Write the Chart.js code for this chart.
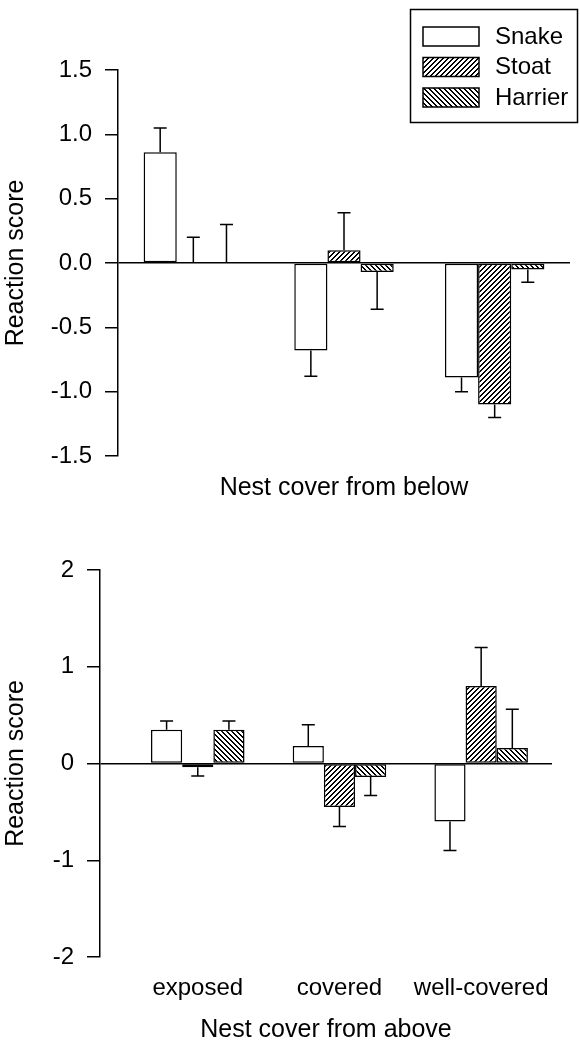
<!DOCTYPE html>
<html>
<head>
<meta charset="utf-8">
<script src="https://cdn.jsdelivr.net/npm/chart.js@4"></script>
<style>
  html, body { margin: 0; padding: 0; background: #fff; overflow: hidden; }
  canvas { position: absolute; left: 0; }
  #below { top: 0; }
  #above { top: 520px; }
</style>
</head>
<body>
<canvas id="below" width="580" height="520"></canvas>
<canvas id="above" width="580" height="540"></canvas>
<script>
// categories and predator models
const categories = ['exposed', 'covered', 'well-covered'];
const seriesNames = ['Snake', 'Stoat', 'Harrier'];

// top panel: nest cover from below (mean, one-sided error)
const belowSnake = [0.86, -0.68, -0.89];
const belowStoat = [0.00, 0.10, -1.10];
const belowHarrier = [0.00, -0.07, -0.05];
const belowSnakeErr = [0.19, 0.20, 0.11];
const belowStoatErr = [0.20, 0.29, 0.10];
const belowHarrierErr = [0.30, 0.29, 0.10];
const belowTicks = [-1.5, -1.0, -0.5, 0.0, 0.5, 1.0, 1.5];

// bottom panel: nest cover from above
const aboveSnake = [0.35, 0.18, -0.60];
const aboveStoat = [-0.04, -0.45, 0.80];
const aboveHarrier = [0.35, -0.14, 0.16];
const aboveSnakeErr = [0.09, 0.22, 0.30];
const aboveStoatErr = [0.09, 0.20, 0.40];
const aboveHarrierErr = [0.09, 0.19, 0.40];
const aboveTicks = [-2, -1, 0, 1, 2];

Chart.defaults.font.family = "'Liberation Sans', Arial, sans-serif";
Chart.defaults.font.size = 24;
Chart.defaults.color = '#000';

// crisp diagonal hatch fills ('/' for dir > 0, '\' otherwise)
function hatch(dir) {
    const n = 5;
    const c = document.createElement('canvas');
    c.width = c.height = n;
    const g = c.getContext('2d');
    g.fillStyle = '#fff';
    g.fillRect(0, 0, n, n);
    g.fillStyle = '#000';
    for (let x = 0; x < n; x++) {
        for (let y = 0; y < n; y++) {
            const k = dir > 0 ? (x + y) % n : (x - y + n) % n;
            if (k < 2) g.fillRect(x, y, 1, 1);
        }
    }
    return g.createPattern(c, 'repeat');
}
const fills = ['#fff', hatch(1), hatch(-1)];

// one-sided error bars, pointing away from zero
const errorBars = {
    id: 'errorBars',
    afterDatasetsDraw(chart) {
        const ctx = chart.ctx;
        const y = chart.scales.y;
        ctx.save();
        ctx.strokeStyle = '#000';
        ctx.lineWidth = 1.5;
        chart.data.datasets.forEach((ds, i) => {
            chart.getDatasetMeta(i).data.forEach((bar, j) => {
                const v = ds.data[j].y;
                const end = v >= 0 ? v + ds.errors[j] : v - ds.errors[j];
                const y0 = y.getPixelForValue(v);
                const y1 = y.getPixelForValue(end);
                ctx.beginPath();
                ctx.moveTo(bar.x, y0);
                ctx.lineTo(bar.x, y1);
                ctx.moveTo(bar.x - 6.5, y1);
                ctx.lineTo(bar.x + 6.5, y1);
                ctx.stroke();
            });
        });
        ctx.restore();
    }
};

// boxed legend in the top-right corner
const boxLegend = {
    id: 'boxLegend',
    afterDraw(chart, args, opts) {
        if (!opts.show) return;
        const ctx = chart.ctx;
        ctx.save();
        ctx.lineWidth = 1.5;
        ctx.strokeStyle = '#000';
        ctx.strokeRect(410.5, 9.5, 167, 113);
        ctx.font = "24px 'Liberation Sans', Arial, sans-serif";
        ctx.textBaseline = 'middle';
        chart.data.datasets.forEach((ds, i) => {
            const top = 27 + i * 30.5;
            ctx.fillStyle = ds.backgroundColor;
            ctx.fillRect(423, top, 56, 19);
            ctx.strokeRect(423, top, 56, 19);
            ctx.fillStyle = '#000';
            ctx.fillText(ds.label, 495, top + 10);
        });
        ctx.restore();
    }
};

function makeDatasets(values, errors) {
    return seriesNames.map((name, i) => ({
        label: name,
        data: values[i].map((v, j) => ({ x: j + 1, y: v })),
        errors: errors[i],
        backgroundColor: fills[i],
        borderColor: '#000',
        borderWidth: 1.5,
        borderSkipped: false,
        categoryPercentage: 0.66,
        barPercentage: 1
    }));
}

function makeChart(id, o) {
    return new Chart(document.getElementById(id), {
        type: 'bar',
        data: { datasets: makeDatasets(o.values, o.errors) },
        options: {
            responsive: false,
            animation: false,
            layout: { padding: o.padding },
            plugins: {
                legend: { display: false },
                tooltip: { enabled: false },
                boxLegend: { show: o.legend }
            },
            scales: {
                x: {
                    type: 'linear',
                    offset: false,
                    min: o.xMin,
                    max: 3.5,
                    afterBuildTicks: s => { s.ticks = categories.map((c, i) => ({ value: i + 1 })); },
                    afterFit: s => { s.height = o.xHeight; },
                    ticks: {
                        display: o.showCats,
                        padding: 17,
                        maxRotation: 0,
                        autoSkip: false,
                        callback: v => categories[v - 1]
                    },
                    grid: { display: false, drawTicks: false, offset: false },
                    border: { display: false },
                    title: { display: true, text: o.xTitle, font: { size: 25 }, padding: 0 }
                },
                y: {
                    min: o.ticks[0],
                    max: o.ticks[o.ticks.length - 1],
                    afterBuildTicks: s => { s.ticks = o.ticks.map(v => ({ value: v })); },
                    afterFit: s => { s.width = o.yWidth; },
                    ticks: { padding: 13, callback: o.fmt },
                    grid: {
                        tickLength: 13,
                        tickColor: '#000',
                        tickWidth: 1.5,
                        lineWidth: 1.5,
                        color: c => (c.tick && c.tick.value === 0 ? '#000' : 'rgba(0,0,0,0)')
                    },
                    border: { display: true, color: '#000', width: 1.5 },
                    title: { display: true, text: 'Reaction score', font: { size: 25 }, padding: { top: 1, bottom: 0 } }
                }
            }
        },
        plugins: [errorBars, boxLegend]
    });
}

makeChart('below', {
    values: [belowSnake, belowStoat, belowHarrier],
    errors: [belowSnakeErr, belowStoatErr, belowHarrierErr],
    ticks: belowTicks,
    fmt: v => v.toFixed(1),
    xMin: 0.5,
    xTitle: 'Nest cover from below',
    showCats: false,
    xHeight: 47,
    yWidth: 118,
    padding: { top: 70, right: 10, bottom: 17, left: 0 },
    legend: true
});

makeChart('above', {
    values: [aboveSnake, aboveStoat, aboveHarrier],
    errors: [aboveSnakeErr, aboveStoatErr, aboveHarrierErr],
    ticks: aboveTicks,
    fmt: v => String(v),
    xMin: 0.31,
    xTitle: 'Nest cover from above',
    showCats: true,
    xHeight: 88,
    yWidth: 100,
    padding: { top: 50, right: 28, bottom: 15, left: 0 },
    legend: false
});
</script>
</body>
</html>
